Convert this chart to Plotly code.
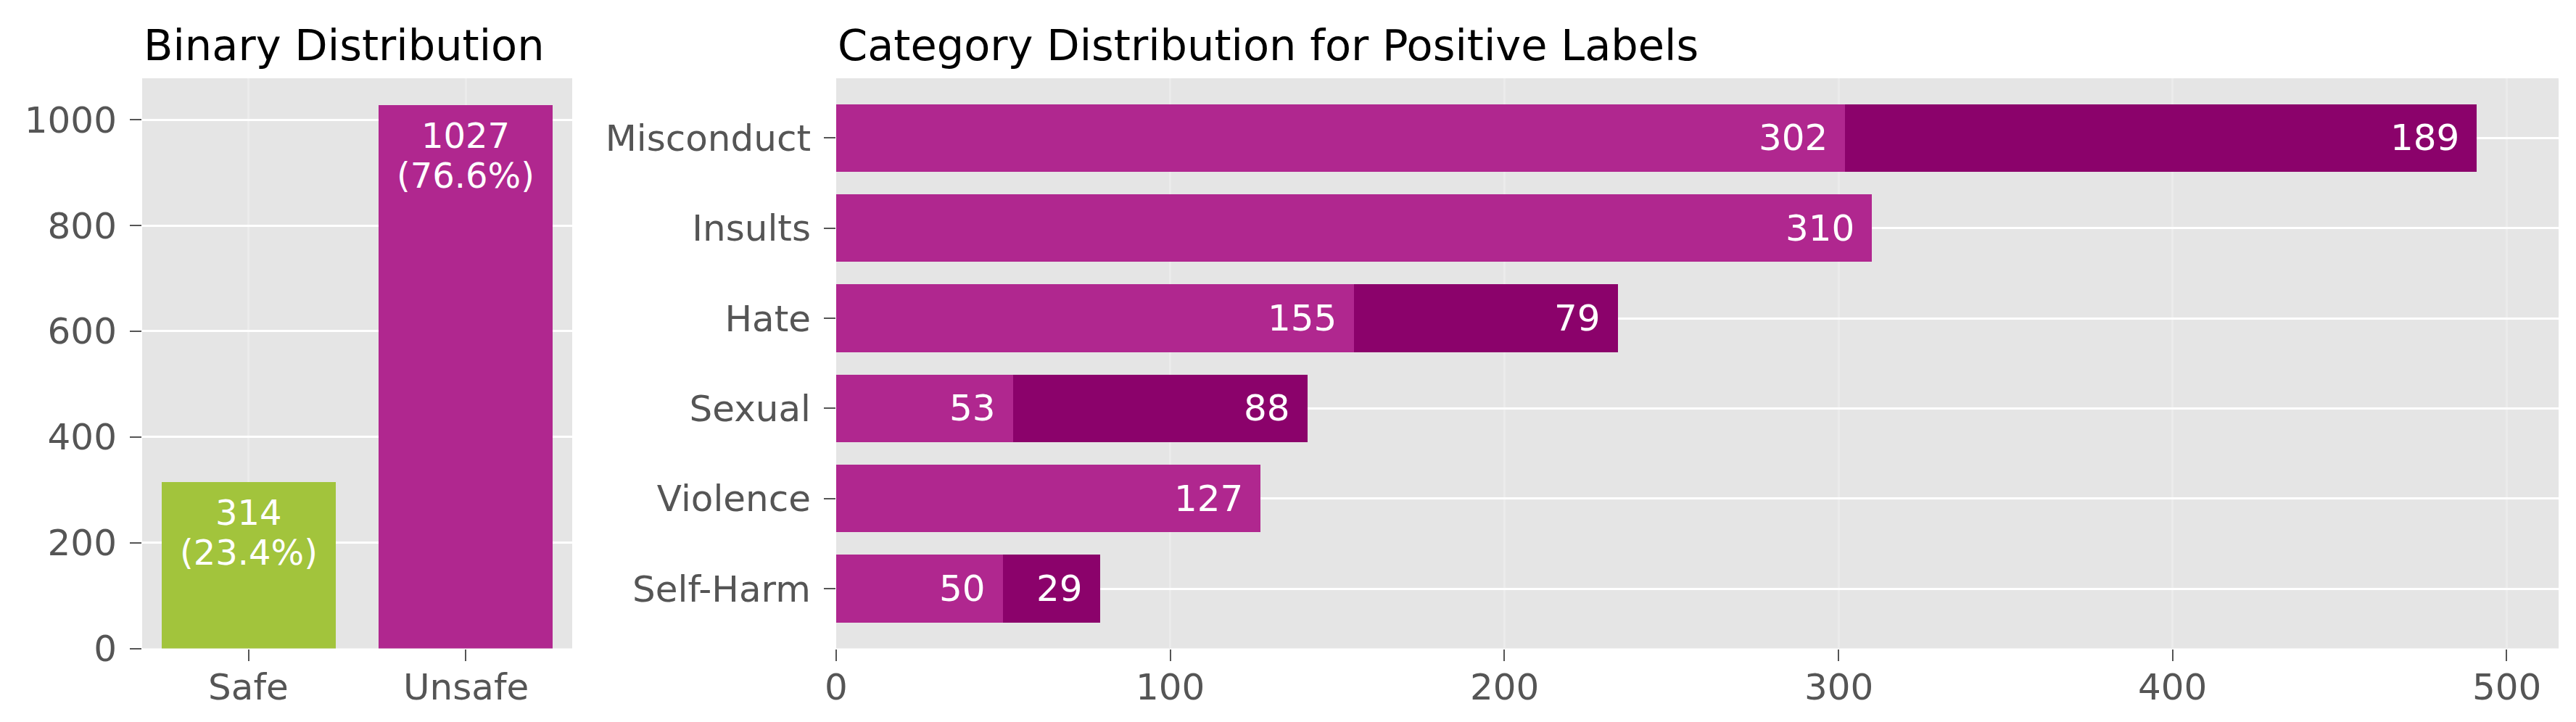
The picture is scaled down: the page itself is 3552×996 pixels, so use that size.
import plotly.graph_objects as go

# ---------------- data ----------------
binary_labels = ["Safe", "Unsafe"]
binary_counts = [314, 1027]

categories = ["Misconduct", "Insults", "Hate", "Sexual", "Violence", "Self-Harm"]
primary_counts = [302, 310, 155, 53, 127, 50]
secondary_counts = [189, 0, 79, 88, 0, 29]

left_ticks = [0, 200, 400, 600, 800, 1000]
right_ticks = [0, 100, 200, 300, 400, 500]

# ---------------- style ----------------
FONT = "DejaVu Sans"
GREEN = "#A2C43C"
MAGENTA = "#B0278F"
DARK = "#8B026B"
BG = "#E5E5E5"
TICKC = "#555555"

W, H = 3552, 996
L_DOM = [188 / W, 781 / W]
R_DOM = [1145 / W, 3520 / W]
Y_DOM = [1 - 886.5 / H, 1 - 100 / H]

fig = go.Figure()

fig.add_trace(go.Bar(
    x=binary_labels, y=binary_counts, width=0.8,
    marker=dict(color=[GREEN, MAGENTA], line=dict(width=0)),
    xaxis="x", yaxis="y", showlegend=False, hoverinfo="skip",
))

fig.add_trace(go.Bar(
    y=categories, x=primary_counts, orientation="h", width=0.75,
    marker=dict(color=MAGENTA, line=dict(width=0)),
    xaxis="x2", yaxis="y2", showlegend=False, hoverinfo="skip",
))
fig.add_trace(go.Bar(
    y=categories, x=secondary_counts, base=primary_counts, orientation="h", width=0.75,
    marker=dict(color=DARK, line=dict(width=0)),
    xaxis="x2", yaxis="y2", showlegend=False, hoverinfo="skip",
))

annotations = []
total = sum(binary_counts)
for lab, v in zip(binary_labels, binary_counts):
    annotations.append(dict(
        x=lab, y=v, xref="x", yref="y", text=str(v), showarrow=False,
        xanchor="center", yanchor="middle", yshift=-42,
        font=dict(family=FONT, size=48, color="white"),
    ))
    annotations.append(dict(
        x=lab, y=v, xref="x", yref="y", text=f"({v / total * 100:.1f}%)", showarrow=False,
        xanchor="center", yanchor="middle", yshift=-97,
        font=dict(family=FONT, size=48, color="white"),
    ))

for cat, p, s in zip(categories, primary_counts, secondary_counts):
    annotations.append(dict(
        x=p, y=cat, xref="x2", yref="y2", text=str(p), showarrow=False,
        xanchor="right", yanchor="middle", xshift=-22,
        font=dict(family=FONT, size=50, color="white"),
    ))
    if s > 0:
        annotations.append(dict(
            x=p + s, y=cat, xref="x2", yref="y2", text=str(s), showarrow=False,
            xanchor="right", yanchor="middle", xshift=-22,
            font=dict(family=FONT, size=50, color="white"),
        ))

# x tick labels (placed as text below each axis)
tickfont = dict(family=FONT, size=50, color=TICKC)
for lab in binary_labels:
    annotations.append(dict(
        x=lab, y=Y_DOM[0], xref="x", yref="paper", text=lab, showarrow=False,
        xanchor="center", yanchor="middle", yshift=-53, font=tickfont,
    ))
for t in right_ticks:
    annotations.append(dict(
        x=t, y=Y_DOM[0], xref="x2", yref="paper", text=str(t), showarrow=False,
        xanchor="center", yanchor="middle", yshift=-53, font=tickfont,
    ))

annotations.append(dict(
    x=L_DOM[0], y=1 - 54 / H, xref="paper", yref="paper", text="Binary Distribution",
    showarrow=False, xanchor="left", yanchor="middle",
    font=dict(family=FONT, size=59, color="black"),
))
annotations.append(dict(
    x=R_DOM[0], y=1 - 54 / H, xref="paper", yref="paper",
    text="Category Distribution for Positive Labels",
    showarrow=False, xanchor="left", yanchor="middle",
    font=dict(family=FONT, size=59, color="black"),
))

common = dict(ticks="outside", ticklen=16, tickwidth=2, tickcolor=TICKC,
              tickfont=tickfont, zeroline=False, showline=False, automargin=False)

fig.update_layout(
    template="none",
    width=W, height=H,
    margin=dict(l=0, r=0, t=0, b=0, autoexpand=False),
    paper_bgcolor="white", plot_bgcolor=BG,
    barmode="stack", bargap=0,
    font=dict(family=FONT),
    annotations=annotations,
    xaxis=dict(domain=L_DOM, anchor="y", type="category", range=[-0.49, 1.49],
               showgrid=True, gridcolor="#EBEBEB", gridwidth=3,
               showticklabels=False, **common),
    yaxis=dict(domain=Y_DOM, anchor="x", range=[0, 1078.35], tickvals=left_ticks,
               showgrid=True, gridcolor="white", gridwidth=3,
               ticklabelstandoff=8, **common),
    xaxis2=dict(domain=R_DOM, anchor="y2", range=[0, 515.55], tickvals=right_ticks,
                showgrid=True, gridcolor="#EBEBEB", gridwidth=3,
                showticklabels=False, **common),
    yaxis2=dict(domain=Y_DOM, anchor="x2", type="category",
                categoryorder="array", categoryarray=categories,
                range=[5.6625, -0.6625],
                showgrid=True, gridcolor="white", gridwidth=3,
                ticklabelstandoff=8, **common),
)

fig.write_html("out.html")
